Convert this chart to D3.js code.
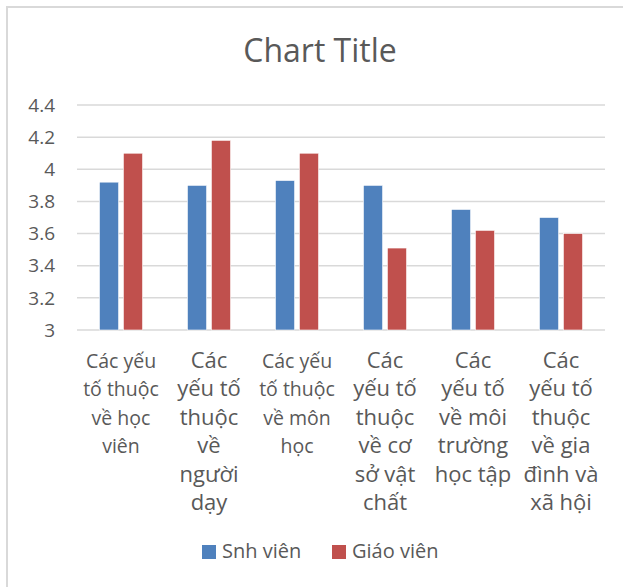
<!DOCTYPE html>
<html>
<head>
<meta charset="utf-8">
<script src="https://cdn.jsdelivr.net/npm/d3@7"></script>
<style>
  body { margin: 0; background: #fff; }
  text { font-family: "Open Sans", "Noto Sans", sans-serif; fill: #595959; }
</style>
</head>
<body>
<script>
const width = 623;
const height = 587;

// data
const categories = [
    ["Các yếu", "tố thuộc", "về học", "viên"],
    ["Các", "yếu tố", "thuộc", "về", "người", "dạy"],
    ["Các yếu", "tố thuộc", "về môn", "học"],
    ["Các", "yếu tố", "thuộc", "về cơ", "sở vật", "chất"],
    ["Các", "yếu tố", "về môi", "trường", "học tập"],
    ["Các", "yếu tố", "thuộc", "về gia", "đình và", "xã hội"]
];
const seriesNames = ["Snh viên", "Giáo viên"];
const sinhVien = [3.92, 3.90, 3.93, 3.90, 3.75, 3.70];
const giaoVien = [4.10, 4.18, 4.10, 3.51, 3.62, 3.60];
const yTicks = [3, 3.2, 3.4, 3.6, 3.8, 4, 4.2, 4.4];

const colors = ["#4f81bd", "#c0504d"];

const svg = d3.select("body")
    .append("svg")
    .attr("width", width)
    .attr("height", height);

// chart border (only left/top visible in the picture)
svg.append("rect")
    .attr("x", 7)
    .attr("y", 7)
    .attr("width", 800)
    .attr("height", 800)
    .style("fill", "none")
    .style("stroke", "#d9d9d9")
    .style("stroke-width", 2);

const plot = { left: 77, right: 605, top: 105, bottom: 330 };

const y = d3.scaleLinear()
    .domain([3, 4.4])
    .range([plot.bottom, plot.top]);

const idx = d3.range(categories.length);

const x0 = d3.scaleBand()
    .domain(idx)
    .range([plot.left, plot.right])
    .paddingInner(0.51)
    .paddingOuter(0.255);

const x1 = d3.scaleBand()
    .domain([0, 1])
    .range([0, x0.bandwidth()])
    .paddingInner(0.2);

// gridlines
svg.append("g")
    .selectAll("line")
    .data(yTicks)
    .enter()
    .append("line")
    .attr("x1", plot.left)
    .attr("x2", plot.right)
    .attr("y1", d => y(d))
    .attr("y2", d => y(d))
    .style("stroke", "#d9d9d9")
    .style("stroke-width", 1.5);

// y axis labels
svg.append("g")
    .selectAll("text")
    .data(yTicks)
    .enter()
    .append("text")
    .attr("x", 55)
    .attr("y", d => y(d))
    .attr("dy", "0.35em")
    .attr("text-anchor", "end")
    .style("font-size", "19px")
    .text(d => d);

// bars
const values = [sinhVien, giaoVien];
values.forEach((vals, s) => {
    svg.append("g")
        .selectAll("rect")
        .data(vals)
        .enter()
        .append("rect")
        .attr("x", (d, i) => x0(i) + x1(s))
        .attr("y", d => y(d))
        .attr("width", x1.bandwidth())
        .attr("height", d => y(3) - y(d))
        .style("fill", colors[s])
        .style("stroke", "#fff")
        .style("stroke-width", 0.6);
});

// category labels, wrapped like the original
const labelSize = lines => lines.length <= 4 ? 19.5 : 22;
const lineHeight = 28.4;

const xLabels = svg.append("g")
    .selectAll("text")
    .data(categories)
    .enter()
    .append("text")
    .attr("text-anchor", "middle")
    .attr("y", 368)
    .style("font-size", d => labelSize(d) + "px");

xLabels.selectAll("tspan")
    .data((d, i) => d.map(t => ({ t, i })))
    .enter()
    .append("tspan")
    .attr("x", d => x0(d.i) + x0.bandwidth() / 2)
    .attr("dy", (d, j) => j === 0 ? 0 : lineHeight)
    .text(d => d.t);

// title
svg.append("text")
    .attr("x", 320)
    .attr("y", 62)
    .attr("text-anchor", "middle")
    .style("font-size", "32px")
    .text("Chart Title");

// legend
const legendX = [202, 332];
const legend = svg.append("g")
    .selectAll("g")
    .data(seriesNames)
    .enter()
    .append("g")
    .attr("transform", (d, i) => `translate(${legendX[i]},545)`);

legend.append("rect")
    .attr("width", 14)
    .attr("height", 14)
    .style("fill", (d, i) => colors[i]);

legend.append("text")
    .attr("x", 20)
    .attr("y", 13)
    .style("font-size", "20px")
    .text(d => d);
</script>
</body>
</html>
